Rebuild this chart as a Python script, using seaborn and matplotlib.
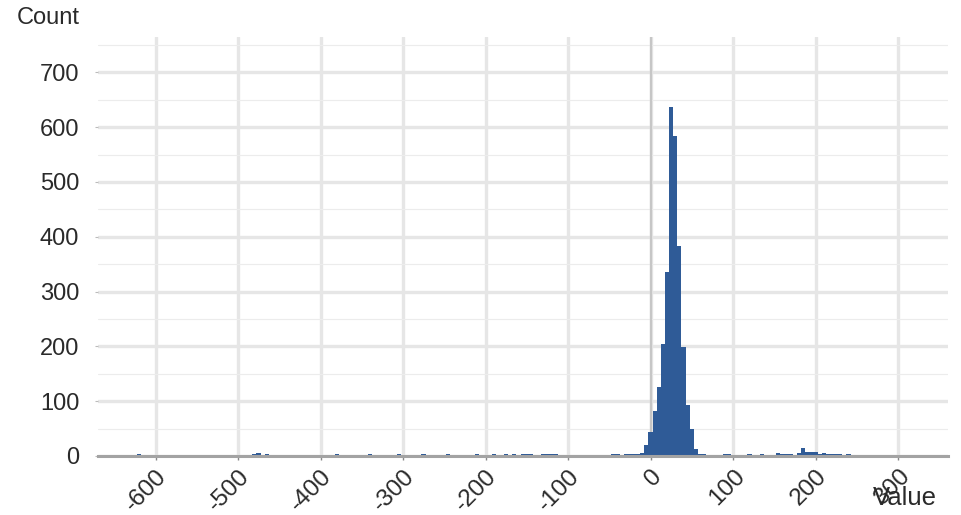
import numpy as np
import pandas as pd
import matplotlib
matplotlib.use("Agg")
import matplotlib.pyplot as plt
import seaborn as sns

# ── Data (bin width 5) ──
bin_centers = [-620.5, -535.5, -500.5, -495.5, -490.5, -485.5, -480.5, -475.5, -465.5,
               -380.5, -360.5, -355.5, -340.5, -335.5, -305.5, -300.5, -295.5, -275.5,
               -255.5, -245.5, -240.5, -235.5, -225.5, -215.5, -210.5, -205.5, -190.5,
               -185.5, -180.5, -175.5, -165.5, -155.5, -150.5, -145.5, -130.5, -125.5,
               -120.5, -115.5, -100.5, -95.5, -90.5, -60.5, -55.5, -50.5, -45.5, -40.5,
               -30.5, -25.5, -20.5, -15.5, -10.5, -5.5, -0.5, 4.5, 9.5, 14.5, 19.5,
               24.5, 29.5, 34.5, 39.5, 44.5, 49.5, 54.5, 59.5, 64.5, 84.5, 89.5, 94.5,
               99.5, 104.5, 109.5, 119.5, 124.5, 134.5, 139.5, 144.5, 154.5, 159.5,
               164.5, 169.5, 179.5, 184.5, 189.5, 194.5, 199.5, 204.5, 209.5, 214.5,
               219.5, 224.5, 229.5, 234.5, 239.5, 249.5, 269.5, 289.5, 304.5, 309.5,
               319.5]
counts = [4, 1, 1, 1, 1, 1, 3, 5, 3,
          3, 1, 1, 3, 1, 4, 1, 1, 3,
          1, 3, 1, 1, 1, 1, 3, 1, 3,
          1, 1, 3, 3, 3, 3, 3, 3, 3,
          3, 3, 1, 1, 1, 2, 2, 1, 3, 3,
          3, 3, 3, 3, 5, 20, 44, 82, 126, 204, 335,
          637, 583, 384, 199, 93, 49, 13, 3, 3, 2, 4, 4,
          2, 2, 2, 3, 1, 3, 1, 1, 6, 3,
          3, 3, 5, 15, 8, 8, 7, 3, 5, 3,
          3, 3, 3, 1, 3, 1, 1, 1, 1, 1,
          1]
bin_start, bin_stop, bin_width = -623, 327, 5
x_ticks = [-600, -500, -400, -300, -200, -100, 0, 100, 200, 300]
y_ticks = [0, 100, 200, 300, 400, 500, 600, 700]

df = pd.DataFrame({'value': bin_centers, 'count': counts})

# ── Style ─────────────────────────────────────────────────
sns.set_theme(style="white")
plt.rcParams['font.family'] = ['Liberation Sans', 'DejaVu Sans']
text_color = '#2a2a2a'
bar_color = '#2f5b97'

fig = plt.figure(figsize=(9.62, 5.15), dpi=100)
W, H = 962, 515
ax = fig.add_axes([98 / W, (H - 456) / H, (948 - 98) / W, (456 - 37) / H])

sns.histplot(data=df, x='value', weights='count', binwidth=bin_width,
             binrange=(bin_start, bin_stop), color=bar_color,
             alpha=1, linewidth=0, ax=ax, zorder=3)

ax.set_xlim(-670, 360)
ax.set_ylim(0, max(counts) * 1.2)
ax.set_xlabel('')
ax.set_ylabel('')

# grid
ax.set_xticks(x_ticks)
ax.set_yticks(y_ticks)
ax.set_yticks(np.arange(50, 751, 100), minor=True)
ax.grid(True, which='major', color='#e6e6e6', linewidth=2.4, zorder=0)
ax.grid(True, which='minor', axis='y', color='#ececec', linewidth=0.8, zorder=0)
ax.set_axisbelow(True)
ax.axvline(0, color='#c6c6c6', linewidth=1.6, zorder=1)

for side in ['top', 'right', 'left']:
    ax.spines[side].set_visible(False)
ax.spines['bottom'].set_color('#a3a3a3')
ax.spines['bottom'].set_linewidth(2.2)
ax.spines['bottom'].set_zorder(5)

ax.tick_params(axis='x', which='major', bottom=True, length=3, width=1,
               color='#888888', labelsize=17.5, labelcolor=text_color, pad=3.5)
ax.tick_params(axis='y', which='major', left=True, length=2.5, width=0.8,
               color='#bbbbbb', labelsize=17, labelcolor=text_color, pad=11)
ax.tick_params(axis='y', which='minor', left=False)
ax.set_xticklabels([str(t) for t in x_ticks], rotation=45, ha='right',
                   va='top', rotation_mode='anchor')
ax.set_yticklabels([str(t) for t in y_ticks])

fig.text(48 / W, 1 - 18 / H, 'Count', ha='center', va='center',
         fontsize=17, color=text_color)
fig.text(905 / W, 1 - 498 / H, 'Value', ha='center', va='center',
         fontsize=18.5, color=text_color)

plt.savefig('out.png', dpi=100)
